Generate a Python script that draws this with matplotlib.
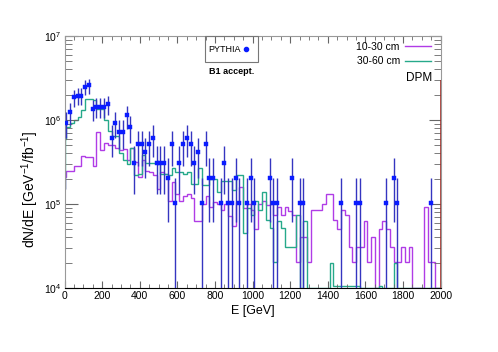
import matplotlib
matplotlib.use("Agg")
import matplotlib.pyplot as plt
import numpy as np
from matplotlib.lines import Line2D
from matplotlib.patches import Rectangle

plt.rcParams["font.family"] = ["Liberation Sans", "DejaVu Sans"]
plt.rcParams["mathtext.fontset"] = "custom"
plt.rcParams["mathtext.rm"] = "Liberation Sans"
plt.rcParams["mathtext.it"] = "Liberation Sans:italic"
plt.rcParams["mathtext.bf"] = "Liberation Sans:bold"

# histogram binning: bins centred on 0, 20, 40 ... 2000 GeV (clipped to the axis range)
hist_edges = np.r_[0, np.arange(10, 2000, 20), 2000]

# 10-30 cm (DPM)
dpm_10_30 = [
    2.1e5, 2.5e5, 2.5e5, 2.85e5, 2.85e5, 3.7e5, 3.6e5, 3.6e5, 2.8e5, 7.1e5,
    4.4e5, 5.3e5, 5.0e5, 5.0e5, 4.6e5, 4.4e5, 4.5e5, 3.3e5, 4.7e5, 3.2e5,
    2.1e5, 3.3e5, 2.5e5, 2.4e5, 2.2e5, 1.5e5, 2.4e5, 2.3e5, 1.1e5, 1.85e5,
    1.3e5, 1.1e5, 1.23e5, 1.3e5, 1.17e5, 6.2e4, 6.2e4, 1.0e5, 1.23e5, 9.3e4,
    1.07e5, 1.0e5, 8.6e4, 1.0e5, 7.1e4, 5.4e4, 1.07e5, 1.6e5, 8.9e4, 1.0e5,
    8.5e4, 5.1e4, 1.0e5, 1.1e5, 9.7e4, 1.0e5, 7.4e4, 9.2e4, 7.4e4, 9.2e4,
    8.3e4, 7.4e4, 2.05e4, 4.1e4, 4.1e4, 2.05e4, 8.5e4, 8.5e4, 8.5e4, 1.0e5,
    1.3e5, 1.3e5, 6.5e4, 5.1e4, 8.5e4, 7.4e4, 3.1e4, 2.05e4, 3.1e4, 3.1e4,
    6.2e4, 2.05e4, 4.1e4, 1e4, 5.1e4, 6.2e4, 5.1e4, 3.1e4, 2.05e4, 2.05e4,
    3.1e4, 2.05e4, 3.1e4, 1e4, 1e4, 1e4, 9.3e4, 2.05e4, 2.05e4, 1e4, 1e4,
]

# 30-60 cm (DPM)
dpm_30_60 = [
    6.0e5, 8.2e5, 9.2e5, 1.0e6, 1.1e6, 1.32e6, 1.8e6, 1.8e6, 1.75e6, 1.35e6,
    1.35e6, 1.0e6, 7.3e5, 6.4e5, 6.4e5, 4.0e5, 3.3e5, 3.0e5, 4.6e5, 2.2e5,
    2.3e5, 3.8e5, 3.1e5, 3.1e5, 3.1e5, 3.1e5, 2.3e5, 2.3e5, 2.2e5, 2.7e5,
    2.4e5, 2.4e5, 2.3e5, 2.4e5, 1.75e5, 1.75e5, 2.7e5, 1.7e5, 1.7e5, 2.0e5,
    2.0e5, 1.4e5, 1.9e5, 1.9e5, 1.9e5, 1.47e5, 2.2e5, 2.2e5, 4.5e4, 9.0e4,
    7.4e4, 1.1e5, 8.5e4, 1.4e5, 6.5e4, 5.2e4, 2.05e4, 6.2e4, 5.2e4, 3.1e4,
    3.1e4, 3.1e4, 7.3e4, 1e4, 6.2e4, 1e4, 1e4, 1e4, 1e4, 1e4,
    1e4, 2.0e4, 1.05e4, 1.05e4, 1.05e4, 1.05e4, 1.05e4, 1.05e4, 1.05e4, 1e4,
    1e4, 1e4, 1e4, 1e4, 1.05e4, 1e4, 1e4, 1e4, 2.0e4, 1e4,
    1e4, 1e4, 1e4, 1e4, 1e4, 1e4, 1e4, 1e4, 1e4, 1e4, 1e4,
]
hist_start = 1.5e5  # level where both histograms begin at E = 0

# PYTHIA points: bin energy, event counts and weight per event
pythia_E = [10, 30, 50, 70, 90, 110, 130, 150, 170, 190,
            210, 230, 250, 270, 290, 310, 330, 350, 370, 390,
            410, 430, 450, 470, 490, 510, 530, 550, 570, 590,
            610, 630, 650, 670, 690, 710, 730, 750, 770, 790,
            830, 850, 870, 890, 910, 930, 970, 990, 1010,
            1090, 1110, 1130, 1210, 1250, 1270, 1470, 1550, 1570,
            1710, 1750, 1770, 1950]
pythia_counts = [9, 12, 18, 19, 19, 24, 25, 13, 14, 14,
                 14, 15, 6, 9, 7, 7, 11, 8, 3, 5,
                 5, 4, 5, 6, 3, 3, 3, 2, 5, 1,
                 3, 5, 6, 5, 3, 4, 1, 5, 2, 2,
                 1, 3, 1, 1, 2, 1, 1, 2, 1,
                 2, 1, 1, 2, 1, 1, 1, 1, 1,
                 1, 2, 1, 1]
pythia_weight = 1.03e5

# last-bin line at the right edge
edge_E = 2000
edge_top = 3.0e6

fig = plt.figure(figsize=(4.98, 3.52), dpi=100)
ax = fig.add_axes([64.5 / 498, 1 - 288 / 352, 376.2 / 498, 252 / 352])

c_mag = "#b03ce6"
c_teal = "#26a98a"
c_blue = "#0a1cff"

ax.stairs(dpm_10_30, hist_edges, baseline=None, color=c_mag, lw=1.0)
ax.vlines(hist_edges[0], hist_start, dpm_10_30[0], color=c_mag, lw=1.0)
ax.stairs(dpm_30_60, hist_edges, baseline=None, color=c_teal, lw=1.0)
ax.vlines(hist_edges[0], hist_start, dpm_30_60[0], color=c_teal, lw=1.0)

counts = np.array(pythia_counts, dtype=float)
vals = counts * pythia_weight
err = np.sqrt(counts) * pythia_weight
err_lo = np.minimum(err, vals * 0.9999)
ax.errorbar(pythia_E, vals, yerr=[err_lo, err], fmt="s", ms=2.4, mew=0.3,
            color=c_blue, ecolor="#3535c0", elinewidth=1.0, capsize=0, zorder=5)

ax.vlines(edge_E, 1e4, edge_top, color="#a0302a", lw=1.2, zorder=6)

ax.set_yscale("log")
ax.set_xlim(0, 2000)
ax.set_ylim(1e4, 1e7)
ax.set_xticks(np.arange(0, 2001, 200))
ax.set_xticks(np.arange(0, 2001, 50), minor=True)
ax.tick_params(which="both", direction="in", top=True, right=True,
               colors="#666666", labelcolor="black", labelsize=7.5, pad=2)
ax.tick_params(axis="x", which="major", length=5)
ax.tick_params(axis="x", which="minor", length=3)
ax.tick_params(axis="y", which="major", length=9)
ax.tick_params(axis="y", which="minor", length=5)
for side in ["left", "top", "right"]:
    ax.spines[side].set_color("#999999")
ax.spines["bottom"].set_color("black")

ax.set_xlabel("E [GeV]", fontsize=9, labelpad=3)
ax.set_ylabel(r"dN/dE [GeV$^{-1}$/fb$^{-1}$]", fontsize=10)
ax.yaxis.set_label_coords(-0.062, 0.39)

# PYTHIA legend box
fig.patches.append(Rectangle((205 / 498, 1 - 62 / 352), 53 / 498, 26 / 352,
                             transform=fig.transFigure, fill=False,
                             edgecolor="#777777", lw=0.8))
h_py = Line2D([], [], marker="o", ls="none", ms=3.0, color=c_blue)
fig.legend([h_py], ["PYTHIA"], loc="center left",
           bbox_to_anchor=(208 / 498, 1 - 50 / 352), fontsize=6.5,
           markerfirst=False, frameon=False, handlelength=0.5,
           handletextpad=0.4, borderpad=0, borderaxespad=0)
fig.text(209 / 498, 1 - 72 / 352, "B1 accept.", fontsize=6.5, fontweight="bold",
         va="center", ha="left")

h_mag = Line2D([], [], color=c_mag, lw=1.0)
h_teal = Line2D([], [], color=c_teal, lw=1.0)
fig.legend([h_mag, h_teal], ["10-30 cm", "30-60 cm"], loc="upper right",
           bbox_to_anchor=(431 / 498, 1 - 42 / 352), fontsize=7.5,
           markerfirst=False, frameon=False, handlelength=2.5,
           handletextpad=0.5, labelspacing=0.42, borderpad=0, borderaxespad=0)
fig.text(432 / 498, 1 - 78 / 352, "DPM", fontsize=8.5, ha="right", va="center")

fig.savefig("out.png", dpi=100)
